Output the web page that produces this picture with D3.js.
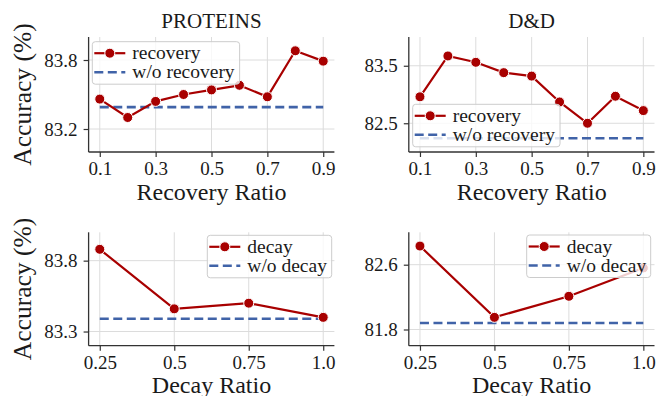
<!DOCTYPE html>
<html>
<head>
<meta charset="utf-8">
<script src="https://cdn.jsdelivr.net/npm/d3@7"></script>
<style>
  html, body { margin: 0; padding: 0; background: #fff; }
  svg { display: block; }
  text { font-family: "Liberation Serif", "Times New Roman", serif; fill: #1a1a1a; }
</style>
</head>
<body>
<svg id="chart" width="657" height="396"></svg>
<script>
// ---------- data ----------
const recoveryRatios = [0.1, 0.2, 0.3, 0.4, 0.5, 0.6, 0.7, 0.8, 0.9];
const decayRatios = [0.25, 0.5, 0.75, 1.0];

const proteinsRecovery = [83.46, 83.30, 83.44, 83.50, 83.54, 83.58, 83.48, 83.88, 83.79];
const proteinsNoRecovery = 83.39;
const ddRecovery = [82.96, 83.67, 83.56, 83.38, 83.32, 82.87, 82.50, 82.97, 82.72];
const ddNoRecovery = 82.24;

const proteinsDecay = [83.88, 83.46, 83.50, 83.40];
const proteinsNoDecay = 83.39;
const ddDecay = [82.83, 81.95, 82.21, 82.56];
const ddNoDecay = 81.88;

const recoveryTicks = [0.1, 0.3, 0.5, 0.7, 0.9];
const decayTicks = [0.25, 0.5, 0.75, 1.0];
const decayTickLabels = ["0.25", "0.5", "0.75", "1.0"];
const proteinsRecoveryYTicks = [83.2, 83.8];
const ddRecoveryYTicks = [82.5, 83.5];
const proteinsDecayYTicks = [83.3, 83.8];
const ddDecayYTicks = [81.8, 82.6];

const titles = ["PROTEINS", "D&D"];
const xLabels = ["Recovery Ratio", "Decay Ratio"];
const yLabel = "Accuracy (%)";

// ---------- style ----------
const RED = "#a80000";
const BLUE = "#4063a8";
const FONT_TICK = 19;
const FONT_LABEL = 24;
const FONT_YLABEL = 25.5;
const FONT_TITLE = 21;
const FONT_LEGEND = 19.5;

const svg = d3.select("#chart");

const colX = [[88.6, 334.4], [408.8, 654.5]];
const rowY = [[37, 152], [232.3, 345.7]];

const panels = [
  { col: 0, row: 0, x: recoveryRatios, y: proteinsRecovery, base: proteinsNoRecovery,
    xDomain: [0.06, 0.94], yDomain: [83.0, 84.0], xTicks: recoveryTicks, xFmt: d3.format(".1f"),
    yTicks: proteinsRecoveryYTicks, yFmt: d3.format(".1f"), title: titles[0], xLabel: xLabels[0],
    labels: ["recovery", "w/o recovery"], legend: { x: 92.3, y: 41.7 } },
  { col: 1, row: 0, x: recoveryRatios, y: ddRecovery, base: ddNoRecovery,
    xDomain: [0.06, 0.94], yDomain: [82.0, 84.0], xTicks: recoveryTicks, xFmt: d3.format(".1f"),
    yTicks: ddRecoveryYTicks, yFmt: d3.format(".1f"), title: titles[1], xLabel: xLabels[0],
    labels: ["recovery", "w/o recovery"], legend: { x: 412.7, y: 104.3 } },
  { col: 0, row: 1, x: decayRatios, y: proteinsDecay, base: proteinsNoDecay,
    xDomain: [0.2125, 1.0375], yDomain: [83.2, 84.0], xTicks: decayTicks, xFmt: (d, i) => decayTickLabels[i],
    yTicks: proteinsDecayYTicks, yFmt: d3.format(".1f"), title: null, xLabel: xLabels[1],
    labels: ["decay", "w/o decay"], legend: { x: 207.3, y: 235.3, right: 331.7 } },
  { col: 1, row: 1, x: decayRatios, y: ddDecay, base: ddNoDecay,
    xDomain: [0.2125, 1.0375], yDomain: [81.6, 83.0], xTicks: decayTicks, xFmt: (d, i) => decayTickLabels[i],
    yTicks: ddDecayYTicks, yFmt: d3.format(".1f"), title: null, xLabel: xLabels[1],
    labels: ["decay", "w/o decay"], legend: { x: 526.7, y: 235, right: 650.7 } }
];

panels.forEach(p => {
  const [x0, x1] = colX[p.col];
  const [y0, y1] = rowY[p.row];
  const xs = d3.scaleLinear().domain(p.xDomain).range([x0, x1]);
  const ys = d3.scaleLinear().domain(p.yDomain).range([y1, y0]);
  const g = svg.append("g");

  // grid
  g.append("g").selectAll("line.vg").data(p.xTicks).join("line")
    .attr("x1", d => xs(d)).attr("x2", d => xs(d)).attr("y1", y0).attr("y2", y1)
    .attr("stroke", "#dcdcdc").attr("stroke-width", 1);
  g.append("g").selectAll("line.hg").data(p.yTicks).join("line")
    .attr("x1", x0).attr("x2", x1).attr("y1", d => ys(d)).attr("y2", d => ys(d))
    .attr("stroke", "#dcdcdc").attr("stroke-width", 1);

  // axes
  const xAxis = d3.axisBottom(xs).tickValues(p.xTicks).tickFormat(p.xFmt).tickSize(5).tickPadding(5);
  const yAxis = d3.axisLeft(ys).tickValues(p.yTicks).tickFormat(p.yFmt).tickSize(5).tickPadding(6);
  const gx = g.append("g").attr("transform", `translate(0,${y1})`).call(xAxis);
  const gy = g.append("g").attr("transform", `translate(${x0},0)`).call(yAxis);
  [gx, gy].forEach(a => {
    a.select(".domain").attr("stroke", "#333").attr("stroke-width", 1.3);
    a.selectAll(".tick line").attr("stroke", "#333").attr("stroke-width", 1.2);
    a.selectAll(".tick text").attr("font-size", FONT_TICK)
      .attr("font-family", '"Liberation Serif", "Times New Roman", serif').attr("fill", "#1a1a1a");
  });
  gx.select(".domain").attr("d", `M${x0},0H${x1}`);
  gy.select(".domain").attr("d", `M0,${y0}V${y1}`);

  // baseline (dashed)
  const xExt = d3.extent(p.x);
  g.append("line")
    .attr("x1", xs(xExt[0])).attr("x2", xs(xExt[1]))
    .attr("y1", ys(p.base)).attr("y2", ys(p.base))
    .attr("stroke", BLUE).attr("stroke-width", 2.6).attr("stroke-dasharray", "9,4.5");

  // series line + markers
  const pts = p.x.map((d, i) => [d, p.y[i]]);
  g.append("path").datum(pts)
    .attr("d", d3.line().x(d => xs(d[0])).y(d => ys(d[1])))
    .attr("fill", "none").attr("stroke", RED).attr("stroke-width", 2.2);
  g.append("g").selectAll("circle").data(pts).join("circle")
    .attr("cx", d => xs(d[0])).attr("cy", d => ys(d[1])).attr("r", 5)
    .attr("fill", RED).attr("stroke", "#fff").attr("stroke-width", 1);

  // title
  if (p.title) {
    g.append("text").attr("x", (x0 + x1) / 2).attr("y", 28)
      .attr("text-anchor", "middle").attr("font-size", FONT_TITLE).text(p.title);
  }
  // x label
  g.append("text").attr("x", (x0 + x1) / 2).attr("y", y1 + 47.5)
    .attr("text-anchor", "middle").attr("font-size", FONT_LABEL).text(p.xLabel);
  // y label
  if (p.col === 0) {
    g.append("text")
      .attr("transform", `translate(31,${(y0 + y1) / 2}) rotate(-90)`)
      .attr("text-anchor", "middle").attr("font-size", FONT_YLABEL).text(yLabel);
  }

  // legend
  const lg = g.append("g");
  const box = lg.append("rect");
  const rows = [p.legend.y + 11.5, p.legend.y + 30.5];
  const texts = p.labels.map((lab, i) =>
    lg.append("text").attr("x", p.legend.x + 40).attr("y", rows[i]).attr("dy", "0.32em")
      .attr("font-size", FONT_LEGEND).text(lab));
  const maxW = d3.max(texts, t => t.node().getComputedTextLength());
  const w = p.legend.right ? p.legend.right - p.legend.x : 40 + maxW + 5;
  box.attr("x", p.legend.x).attr("y", p.legend.y).attr("width", w).attr("height", 42.5)
    .attr("rx", 3).attr("fill", "#fff").attr("fill-opacity", 0.8)
    .attr("stroke", "#cccccc").attr("stroke-width", 1);
  lg.append("line").attr("x1", p.legend.x + 2).attr("x2", p.legend.x + 33)
    .attr("y1", rows[0]).attr("y2", rows[0]).attr("stroke", RED).attr("stroke-width", 2.2);
  lg.append("circle").attr("cx", p.legend.x + 17.5).attr("cy", rows[0]).attr("r", 5)
    .attr("fill", RED).attr("stroke", "#fff").attr("stroke-width", 1);
  lg.append("line").attr("x1", p.legend.x + 2).attr("x2", p.legend.x + 33)
    .attr("y1", rows[1]).attr("y2", rows[1]).attr("stroke", BLUE).attr("stroke-width", 2.6)
    .attr("stroke-dasharray", "9,4.5");
  texts.forEach(t => t.raise());
});
</script>
</body>
</html>
